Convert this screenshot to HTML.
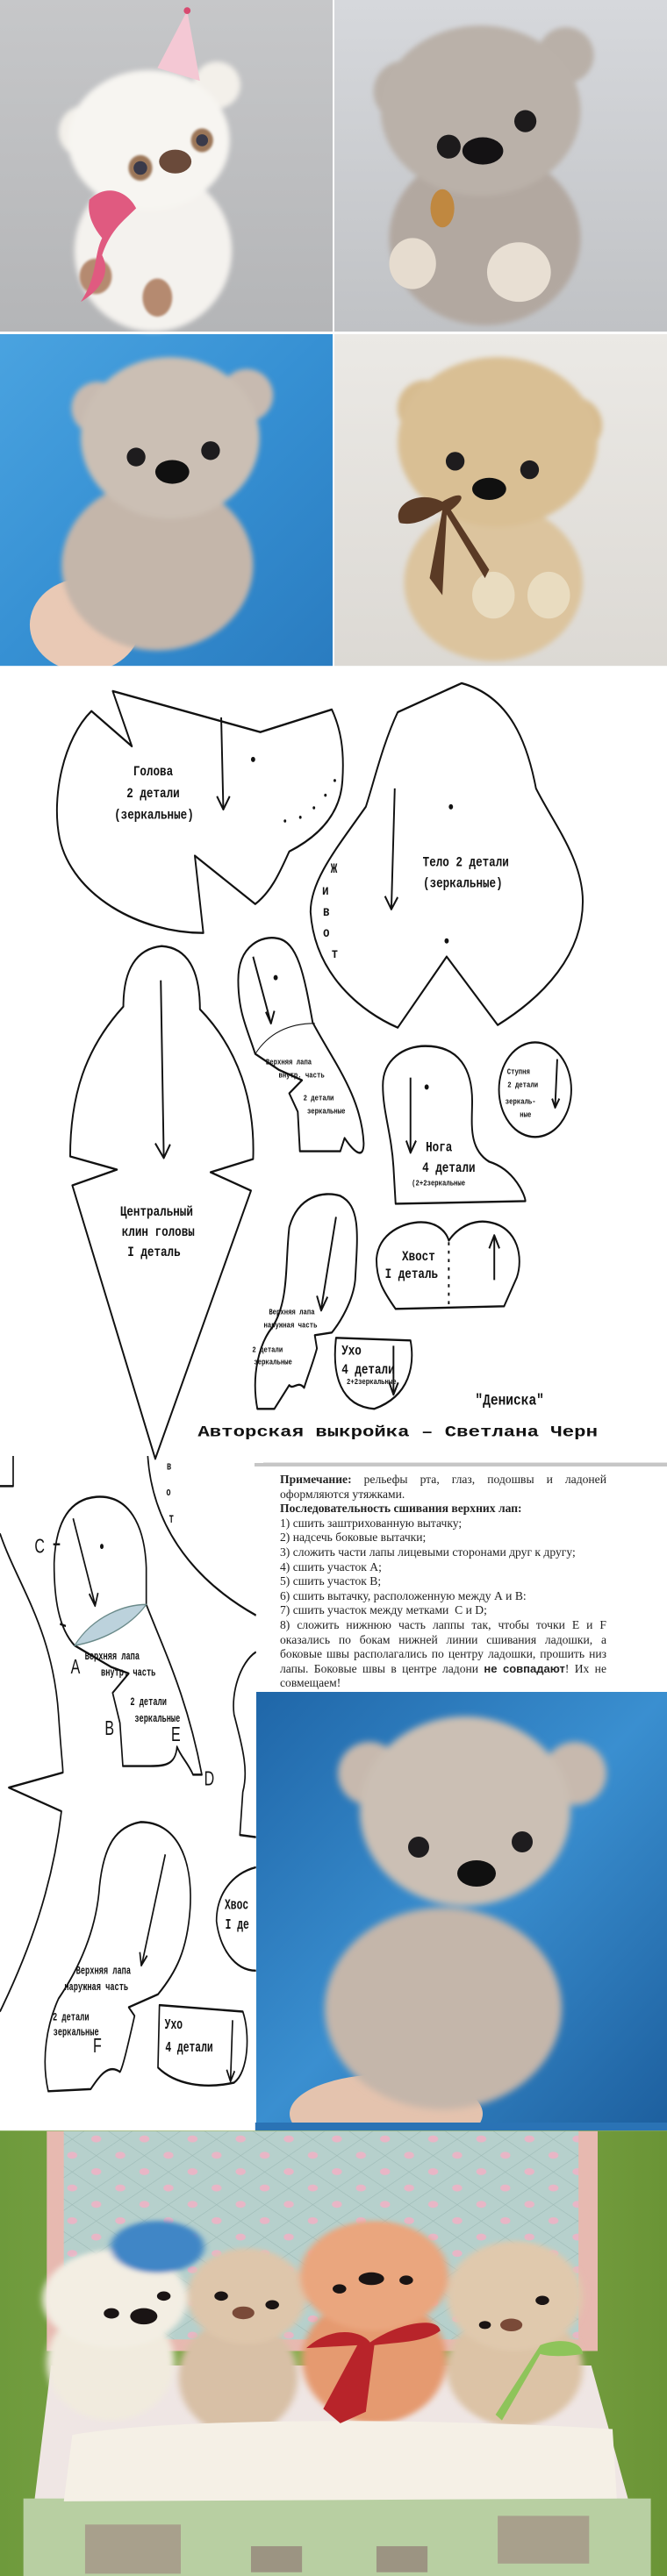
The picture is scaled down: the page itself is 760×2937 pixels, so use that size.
<!DOCTYPE html>
<html><head><meta charset="utf-8">
<style>
html,body{margin:0;padding:0;background:#fff;}
body{width:760px;height:2937px;position:relative;overflow:hidden;}
svg{position:absolute;display:block;}
.pt{font-family:"Liberation Mono","DejaVu Sans Mono",monospace;font-weight:bold;fill:#111;}
#txt{position:absolute;left:319px;top:1679px;width:372px;font-family:"Liberation Serif","DejaVu Serif",serif;font-size:13.6px;line-height:16.6px;color:#222;text-align:justify;}
#txt p{margin:0;}
</style></head><body>

<svg style="left:0;top:0" width="760" height="760" viewBox="0 0 1568 1568" preserveAspectRatio="none">
<defs>
<filter id="f1" x="-20%" y="-20%" width="140%" height="140%"><feGaussianBlur stdDeviation="6"/></filter>
<filter id="f2"><feGaussianBlur stdDeviation="3"/></filter>
<linearGradient id="g1" x1="0" y1="0" x2="0" y2="1"><stop offset="0" stop-color="#c6c7c9"/><stop offset="1" stop-color="#b4b5b7"/></linearGradient>
<linearGradient id="g2" x1="0" y1="0" x2="0" y2="1"><stop offset="0" stop-color="#d6d8dc"/><stop offset="1" stop-color="#c0c2c5"/></linearGradient>
<linearGradient id="g3" x1="0" y1="0" x2="1" y2="1"><stop offset="0" stop-color="#4aa3e0"/><stop offset="0.5" stop-color="#3690d3"/><stop offset="1" stop-color="#2a7cc0"/></linearGradient>
<linearGradient id="g4" x1="0" y1="0" x2="0" y2="1"><stop offset="0" stop-color="#ebe9e5"/><stop offset="1" stop-color="#dcd9d4"/></linearGradient>
</defs>
<rect width="1568" height="1568" fill="#fff"/>
<rect x="0" y="0" width="782" height="780" fill="url(#g1)"/>
<rect x="786" y="0" width="782" height="780" fill="url(#g2)"/>
<rect x="0" y="786" width="782" height="782" fill="url(#g3)"/>
<rect x="786" y="786" width="782" height="782" fill="url(#g4)"/>
<g filter="url(#f1)">
<circle cx="200" cy="310" r="62" fill="#f3f0ea"/><circle cx="510" cy="200" r="55" fill="#f3f0ea"/>
<ellipse cx="360" cy="590" rx="185" ry="190" fill="#f4f2ee"/>
<ellipse cx="350" cy="330" rx="190" ry="165" fill="#f7f5f1"/>
</g>
<ellipse cx="225" cy="650" rx="38" ry="42" fill="#b58a70" filter="url(#f2)"/>
<ellipse cx="370" cy="700" rx="35" ry="45" fill="#b58a70" filter="url(#f2)"/>
<ellipse cx="330" cy="395" rx="28" ry="30" fill="#9b7658" filter="url(#f2)"/><circle cx="330" cy="395" r="16" fill="#3a3a4a"/>
<ellipse cx="475" cy="330" rx="26" ry="28" fill="#9b7658" filter="url(#f2)"/><circle cx="475" cy="330" r="14" fill="#3a3a4a"/>
<ellipse cx="412" cy="380" rx="38" ry="28" fill="#6a4a3a"/>
<path d="M210,470 C250,430 300,450 320,490 C290,520 260,540 240,600 C260,640 240,680 190,710 C230,650 220,600 240,560 C215,530 205,500 210,470Z" fill="#e05a80"/>
<path d="M370,160 L470,190 L440,25 Z" fill="#f4c8d4"/><circle cx="440" cy="25" r="8" fill="#d84a70"/>
<g filter="url(#f1)">
<circle cx="950" cy="215" r="72" fill="#b9b0a8"/><circle cx="1330" cy="130" r="66" fill="#b9b0a8"/>
<ellipse cx="1140" cy="560" rx="225" ry="205" fill="#b2a8a0"/>
<ellipse cx="1130" cy="260" rx="235" ry="200" fill="#bab1a9"/>
</g>
<ellipse cx="970" cy="620" rx="55" ry="60" fill="#e6dccf"/>
<ellipse cx="1220" cy="640" rx="75" ry="70" fill="#e8dfd3"/>
<circle cx="1055" cy="345" r="28" fill="#1d1b1c"/><circle cx="1235" cy="285" r="26" fill="#1d1b1c"/>
<ellipse cx="1135" cy="355" rx="48" ry="32" fill="#141214"/>
<ellipse cx="1040" cy="490" rx="28" ry="45" fill="#c08840"/>
<ellipse cx="200" cy="1470" rx="130" ry="110" fill="#e9c9b5"/>
<g filter="url(#f1)">
<circle cx="230" cy="960" r="62" fill="#c7bab0"/><circle cx="580" cy="930" r="62" fill="#c7bab0"/>
<ellipse cx="370" cy="1330" rx="225" ry="200" fill="#c4b6aa"/>
<ellipse cx="400" cy="1030" rx="210" ry="190" fill="#cbbfb4"/>
</g>
<circle cx="320" cy="1075" r="22" fill="#1e1c1e"/><circle cx="495" cy="1060" r="22" fill="#1e1c1e"/>
<ellipse cx="405" cy="1110" rx="40" ry="28" fill="#101010"/>
<g filter="url(#f1)">
<circle cx="1000" cy="960" r="66" fill="#d7bc90"/><circle cx="1350" cy="1000" r="66" fill="#d7bc90"/>
<ellipse cx="1160" cy="1370" rx="210" ry="185" fill="#dcc49e"/>
<ellipse cx="1170" cy="1040" rx="235" ry="200" fill="#d9bf94"/>
</g>
<ellipse cx="1160" cy="1400" rx="50" ry="55" fill="#e9dcc0"/><ellipse cx="1290" cy="1400" rx="50" ry="55" fill="#e9dcc0"/>
<circle cx="1070" cy="1085" r="22" fill="#1e1c1e"/><circle cx="1245" cy="1105" r="22" fill="#1e1c1e"/>
<ellipse cx="1150" cy="1150" rx="40" ry="26" fill="#101010"/>
<path d="M1040,1180 C980,1150 920,1190 940,1230 C980,1240 1020,1210 1040,1200 L1010,1360 L1040,1400 L1050,1210 L1140,1360 L1150,1340 L1060,1200 C1100,1170 1090,1150 1040,1180Z" fill="#5a3a25"/>
</svg>

<svg style="left:0;top:740px" width="760" height="940" viewBox="0 0 1568 1568" preserveAspectRatio="none">
<rect x="0" y="32" width="1568" height="1520" fill="#fff"/>
<g fill="none" stroke="#111" stroke-width="4" stroke-linejoin="round">
<path d="M265,80 L310,185 L215,118 C150,170 120,280 140,360 C170,470 330,540 478,540 L458,393 L600,485 C640,460 660,420 680,385 C740,360 800,320 805,250 C810,190 800,150 780,115 L612,158 Z"/>
<path d="M935,120 C900,180 880,250 860,300 C790,380 730,440 730,500 C740,620 850,690 935,720 L1050,585 L1170,715 C1280,660 1370,580 1370,480 C1370,400 1300,330 1260,265 C1240,180 1200,90 1085,65 Z"/>
<path d="M380,565 C320,570 290,610 290,680 C200,760 165,850 165,965 L275,990 L170,1020 L365,1540 L590,1030 L495,995 L595,970 C600,860 560,760 470,685 C470,610 440,568 380,565 Z"/>
<path d="M560,630 C560,560 620,545 650,550 C700,555 715,620 735,710 C780,780 850,850 855,940 C855,970 835,960 810,930 L800,955 L705,955 L700,880 L680,845 L710,820 L655,800 L600,770 C580,720 560,690 560,630 Z"/>
<path d="M600,770 C640,720 700,712 740,712" stroke-width="2"/>
<path d="M900,830 C900,780 950,755 1000,755 C1080,755 1110,800 1110,860 C1110,900 1100,950 1150,975 C1210,990 1235,1040 1235,1050 L930,1055 L925,985 C920,920 900,880 900,830 Z"/>
<ellipse cx="1258" cy="838" rx="85" ry="90"/>
<path d="M885,1160 C890,1110 950,1090 990,1090 C1030,1090 1050,1110 1055,1125 C1080,1095 1120,1085 1150,1090 C1220,1100 1230,1160 1215,1195 L1185,1250 L930,1255 C900,1220 885,1200 885,1160 Z"/>
<path d="M1055,1128 L1055,1250" stroke-dasharray="6,10"/>
<path d="M605,1445 C590,1380 610,1320 640,1290 C680,1240 670,1170 680,1100 C700,1040 760,1030 800,1040 C850,1060 840,1120 835,1200 C830,1240 800,1280 780,1300 L740,1305 L745,1330 C735,1360 720,1390 715,1405 C700,1390 690,1410 680,1400 L645,1445 Z"/>
<path d="M790,1310 L965,1315 C975,1360 965,1420 880,1445 C800,1440 780,1380 790,1310 Z"/>
<path d="M520,130 L525,305 M928,265 L920,495 M378,630 L385,965 M595,585 L637,712 M965,815 L965,955 M1310,780 L1305,870 M1162,1200 L1162,1118 M790,1080 L755,1255 M925,1325 L925,1415" stroke-width="4"/>
<path d="M510,280 L525,305 L540,280 M905,470 L920,495 L935,472 M365,940 L385,968 L400,942 M625,690 L637,712 L645,688 M955,935 L965,958 L978,935 M1298,855 L1305,872 L1315,855 M1150,1140 L1162,1115 L1174,1140 M745,1230 L755,1258 L770,1232 M915,1395 L925,1418 L936,1395" stroke-width="4"/>
<path d="M600,1550 L1568,1550" stroke="#999" stroke-width="5"/>
</g>
<g fill="#111"><circle cx="595" cy="210" r="5"/><circle cx="1060" cy="300" r="5"/><circle cx="1050" cy="555" r="5"/><circle cx="648" cy="625" r="5"/><circle cx="1003" cy="833" r="5"/>
<circle cx="670" cy="327" r="3"/><circle cx="706" cy="320" r="3"/><circle cx="738" cy="302" r="3"/><circle cx="765" cy="278" r="3"/><circle cx="787" cy="250" r="3"/></g>
<g class="pt" font-size="26">
<text x="360" y="240" text-anchor="middle">Голова</text>
<text x="360" y="282" text-anchor="middle">2 детали</text>
<text x="362" y="323" text-anchor="middle">(зеркальные)</text>
<text x="1095" y="413" text-anchor="middle">Тело 2 детали</text>
<text x="1088" y="453" text-anchor="middle">(зеркальные)</text>
<text x="785" y="425" text-anchor="middle">Ж</text><text x="765" y="467" text-anchor="middle">и</text><text x="767" y="507" text-anchor="middle">в</text><text x="767" y="547" text-anchor="middle">о</text><text x="787" y="587" text-anchor="middle">т</text>
<text x="368" y="1078" text-anchor="middle">Центральный</text>
<text x="372" y="1116" text-anchor="middle">клин головы</text>
<text x="362" y="1154" text-anchor="middle">I деталь</text>
<text x="1032" y="955" text-anchor="middle">Нога</text>
<text x="1055" y="994" text-anchor="middle">4 детали</text>
<text x="945" y="1163">Хвост</text>
<text x="905" y="1196">I деталь</text>
<text x="803" y="1342">Ухо</text>
<text x="803" y="1378">4 детали</text>
<text x="1198" y="1437" text-anchor="middle" font-size="30">"Дениска"</text>
<text x="935" y="1497" text-anchor="middle" font-size="30" textLength="940" lengthAdjust="spacingAndGlyphs">Авторская выкройка – Светлана Черн</text>
</g>
<g class="pt" font-size="15" font-weight="normal">
<text x="625" y="790">Верхняя лапа</text><text x="655" y="815">внутр. часть</text>
<text x="713" y="858">2 детали</text><text x="722" y="883">зеркальные</text>
<text x="1192" y="808">Ступня</text><text x="1193" y="833">2 детали</text><text x="1188" y="865">зеркаль-</text><text x="1222" y="890">ные</text>
<text x="968" y="1020">(2+2зеркальные</text>
<text x="632" y="1265">Верхняя лапа</text><text x="620" y="1290">наружная часть</text>
<text x="593" y="1337">2 детали</text><text x="597" y="1360">зеркальные</text>
<text x="815" y="1398">2+2зеркальные</text>
</g>
</svg>

<svg style="left:0;top:1660px" width="300" height="770" viewBox="0 0 900 1568" preserveAspectRatio="none">
<rect x="0" y="14" width="900" height="1554" fill="#fff"/>
<g fill="none" stroke="#111" stroke-width="5" stroke-linejoin="round">
<path d="M45,0 L45,70 L0,70"/>
<path d="M0,180 C60,300 180,400 200,600 C210,700 215,720 215,735 L30,770 L210,825 C180,1000 100,1150 0,1290"/>
<path d="M255,440 C200,400 185,330 185,250 C190,150 240,100 330,95 C440,90 495,160 500,260 L500,345 C560,450 640,560 690,740 L660,740 C640,710 620,700 605,675 C600,720 560,720 500,720 L420,720 L410,620 L385,550 L440,505 L380,490 Z"/>
<path d="M505,0 C520,150 640,280 875,370"/>
<path d="M875,455 C820,480 790,550 800,600 C830,680 850,730 830,780 L820,880 L875,885"/>
<path d="M165,1475 C140,1400 160,1320 200,1260 C270,1190 330,1100 340,1000 C355,900 400,860 480,850 C600,850 660,930 650,1050 C640,1150 600,1200 540,1250 L440,1280 L460,1300 C440,1360 420,1420 410,1430 C370,1410 340,1440 310,1470 Z"/>
<path d="M545,1275 L830,1290 C855,1340 850,1430 800,1455 C700,1470 600,1460 540,1420 Z"/>
<path d="M875,955 C790,970 740,1020 740,1080 C750,1140 800,1195 875,1195"/>
<path d="M250,145 L325,345 M305,320 L325,348 L335,318 M565,925 L485,1180 M478,1152 L483,1183 L503,1160 M795,1310 L788,1450 M775,1425 L788,1452 L802,1428 M182,205 L205,205 M205,390 L225,395"/>
</g>
<path d="M255,440 C320,370 430,345 500,345 C440,400 340,430 255,440Z" fill="#bcd2dc" stroke="#6a8a8a" stroke-width="3"/>
<circle cx="348" cy="210" r="6" fill="#111"/>
<g font-family="Liberation Sans,sans-serif" font-size="48" fill="#111">
<text x="118" y="225">C</text><text x="242" y="505">A</text><text x="358" y="648">B</text><text x="585" y="662">E</text><text x="698" y="765">D</text><text x="318" y="1385">F</text>
</g>
<g class="pt" font-size="26" font-weight="normal">
<text x="290" y="472">Верхняя лапа</text><text x="345" y="510">внутр. часть</text>
<text x="445" y="578">2 детали</text><text x="460" y="617">зеркальные</text>
<text x="260" y="1203">Верхняя лапа</text><text x="220" y="1240">наружная часть</text>
<text x="180" y="1310">2 детали</text><text x="182" y="1345">зеркальные</text>
<text x="578" y="155">Т</text><text x="568" y="92">о</text><text x="570" y="32">в</text>
</g>
<g class="pt" font-size="34"><text x="563" y="1330">Ухо</text><text x="565" y="1383">4 детали</text><text x="768" y="1052">Хвос</text><text x="770" y="1098">I де</text></g>
</svg>

<div style="position:absolute;left:290px;top:1668px;width:470px;height:4px;background:#c6c6c6"></div>
<div id="txt">
<p><b>Примечание:</b> рельефы рта, глаз, подошвы и ладоней оформляются утяжками.</p>
<p><b>Последовательность сшивания верхних лап:</b></p>
<p>1) сшить заштрихованную вытачку;</p>
<p>2) надсечь боковые вытачки;</p>
<p>3) сложить части лапы лицевыми сторонами друг к другу;</p>
<p>4) сшить участок А;</p>
<p>5) сшить участок В;</p>
<p>6) сшить вытачку, расположенную между А и В:</p>
<p>7) сшить участок между метками&nbsp; С и D;</p>
<p>8) сложить нижнюю часть лаппы так, чтобы точки E и F оказались по бокам нижней линии сшивания ладошки, а боковые швы располагались по центру ладошки, прошить низ лапы. Боковые швы в центре ладони <b style="font-family:'Liberation Sans',sans-serif;font-size:13px">не совпадают</b>! Их не совмещаем!</p>
</div>

<svg style="left:292px;top:1929px" width="468" height="495" viewBox="292 1929 468 495">
<defs>
<linearGradient id="g5" x1="0" y1="0" x2="1" y2="1"><stop offset="0" stop-color="#1f66a8"/><stop offset="0.5" stop-color="#3a8fd0"/><stop offset="1" stop-color="#1d5f9e"/></linearGradient>
<filter id="f3" x="-20%" y="-20%" width="140%" height="140%"><feGaussianBlur stdDeviation="4"/></filter>
</defs>
<rect x="292" y="1929" width="468" height="495" fill="url(#g5)"/>
<ellipse cx="440" cy="2410" rx="110" ry="45" fill="#e4c3ae"/>
<g filter="url(#f3)">
<circle cx="421" cy="2022" r="36" fill="#c7b9ae"/><circle cx="655" cy="2022" r="36" fill="#c7b9ae"/>
<ellipse cx="505" cy="2290" rx="135" ry="115" fill="#c4b6aa"/>
<ellipse cx="530" cy="2065" rx="120" ry="108" fill="#cbbfb4"/>
</g>
<circle cx="477" cy="2106" r="12" fill="#1e1c1e"/><circle cx="595" cy="2100" r="12" fill="#1e1c1e"/>
<ellipse cx="543" cy="2136" rx="22" ry="15" fill="#101010"/>
</svg>

<svg style="left:0;top:2420px" width="760" height="517" viewBox="0 0 1568 1568" preserveAspectRatio="none">
<defs>
<filter id="f4" x="-20%" y="-20%" width="140%" height="140%"><feGaussianBlur stdDeviation="8"/></filter>
<linearGradient id="gr" x1="0" y1="0" x2="1" y2="0"><stop offset="0" stop-color="#6e9a3c"/><stop offset="0.5" stop-color="#8bb050"/><stop offset="1" stop-color="#6a9436"/></linearGradient>
<pattern id="q" width="80" height="80" patternUnits="userSpaceOnUse" patternTransform="rotate(45)"><rect width="80" height="80" fill="#b6d0cc"/><path d="M0,0 L80,0 M0,0 L0,80" stroke="#9dbab6" stroke-width="3"/><circle cx="40" cy="40" r="12" fill="#e8b6c6"/></pattern>
</defs>
<rect x="0" y="0" width="1568" height="28" fill="#fff"/>
<rect x="600" y="0" width="968" height="28" fill="#2a73b5"/>
<rect x="0" y="28" width="1568" height="1540" fill="url(#gr)"/>
<rect x="110" y="30" width="1295" height="760" fill="#e7b9b0"/>
<rect x="150" y="30" width="1210" height="720" fill="url(#q)"/>
<path d="M120,840 L1390,840 L1480,1320 L80,1320 Z" fill="#efe6e4"/>
<rect x="55" y="1300" width="1475" height="268" fill="#b8cfa2"/>
<rect x="200" y="1390" width="225" height="170" fill="#a8a08c"/><rect x="1170" y="1360" width="215" height="165" fill="#a8a08c"/>
<rect x="590" y="1465" width="120" height="90" fill="#9c9482"/><rect x="885" y="1465" width="120" height="90" fill="#9c9482"/>
<g filter="url(#f4)">
<ellipse cx="260" cy="830" rx="150" ry="200" fill="#f1ebde"/><ellipse cx="270" cy="610" rx="170" ry="170" fill="#f3eee3"/>
<ellipse cx="560" cy="880" rx="140" ry="200" fill="#d8c0a6"/><ellipse cx="580" cy="600" rx="140" ry="165" fill="#dec6ab"/>
<ellipse cx="880" cy="820" rx="170" ry="220" fill="#e59a70"/><ellipse cx="880" cy="530" rx="175" ry="190" fill="#eaa67e"/>
<ellipse cx="1210" cy="850" rx="160" ry="200" fill="#dcc3a6"/><ellipse cx="1210" cy="600" rx="160" ry="190" fill="#e0c9ad"/>
<ellipse cx="370" cy="430" rx="110" ry="90" fill="#3f86c6"/>
</g>
<path d="M170,1080 C400,1020 1000,1020 1440,1060 L1450,1300 L150,1310 Z" fill="#f5f0e6"/>
<g fill="#1a1414"><circle cx="262" cy="660" r="18"/><circle cx="385" cy="600" r="16"/><ellipse cx="338" cy="670" rx="32" ry="28"/>
<circle cx="520" cy="600" r="16"/><circle cx="640" cy="630" r="16"/><circle cx="798" cy="575" r="16"/><circle cx="955" cy="545" r="16"/><ellipse cx="873" cy="540" rx="30" ry="22"/>
<circle cx="1140" cy="700" r="14"/><circle cx="1275" cy="615" r="16"/></g>
<ellipse cx="572" cy="658" rx="26" ry="22" fill="#7a4a38"/><ellipse cx="1202" cy="700" rx="26" ry="22" fill="#7a4a38"/>
<path d="M720,780 C780,700 850,720 870,760 C940,690 1030,670 1035,720 C1000,760 930,760 880,770 L860,1000 L800,1040 L760,990 L840,770 Z" fill="#b8242a"/>
<path d="M1270,770 C1320,740 1370,760 1370,800 C1330,810 1290,810 1270,800 L1180,1030 L1165,1010 Z" fill="#8ec45a"/>
</svg>

</body></html>
